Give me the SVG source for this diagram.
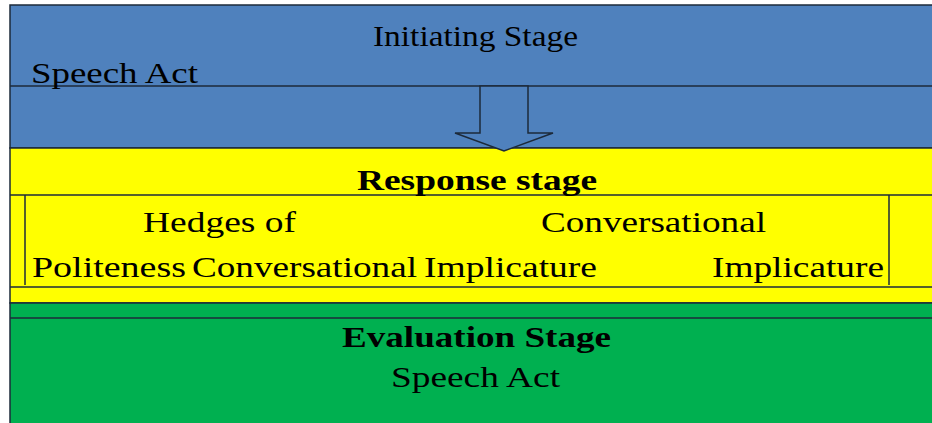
<svg xmlns="http://www.w3.org/2000/svg" width="932" height="423" viewBox="0 0 932 423">
<style>
.t{font-family:"Liberation Serif","Times New Roman",serif;font-size:29px;fill:#000}
.b{font-weight:bold}
.ln{stroke:#1c2a3a;stroke-width:1.5;fill:none}
.box{stroke:#1c2a3a;stroke-width:1.5}
</style>
<rect width="932" height="423" fill="#fff"/>
<g id="initiating">
<rect class="box" x="10" y="5" width="930" height="143" fill="#4F81BD"/>
<line class="ln" x1="10" y1="86" x2="932" y2="86"/>
<text class="t" x="373" y="46" textLength="205" lengthAdjust="spacingAndGlyphs">Initiating Stage</text>
<text class="t" x="31" y="83" textLength="167" lengthAdjust="spacingAndGlyphs">Speech Act</text>
</g>
<g id="response">
<rect class="box" x="10" y="148" width="930" height="155" fill="#FFFF00"/>
<line class="ln" x1="10" y1="195" x2="932" y2="195"/>
<line class="ln" x1="10" y1="287" x2="932" y2="287"/>
<line class="ln" x1="25" y1="195" x2="25" y2="285"/>
<line class="ln" x1="889" y1="195" x2="889" y2="285"/>
<text class="t b" x="357" y="190" textLength="240" lengthAdjust="spacingAndGlyphs">Response stage</text>
<text class="t" x="143" y="232" textLength="153" lengthAdjust="spacingAndGlyphs">Hedges of</text>
<text class="t" x="541" y="232" textLength="225" lengthAdjust="spacingAndGlyphs">Conversational</text>
<text class="t" x="32" y="277" textLength="154" lengthAdjust="spacingAndGlyphs">Politeness</text>
<text class="t" x="192" y="277" textLength="225" lengthAdjust="spacingAndGlyphs">Conversational</text>
<text class="t" x="424" y="277" textLength="173" lengthAdjust="spacingAndGlyphs">Implicature</text>
<text class="t" x="712" y="277" textLength="172" lengthAdjust="spacingAndGlyphs">Implicature</text>
</g>
<g id="evaluation">
<rect class="box" x="10" y="303" width="930" height="130" fill="#00B050"/>
<line class="ln" x1="10" y1="318" x2="932" y2="318"/>
<text class="t b" x="342" y="347" textLength="269" lengthAdjust="spacingAndGlyphs">Evaluation Stage</text>
<text class="t" x="391" y="387" textLength="169" lengthAdjust="spacingAndGlyphs">Speech Act</text>
</g>
<g id="connectors">
<polygon class="box" points="480,86 528,86 528,133 553,133 504,151 455,133 480,133" fill="#4F81BD"/>
</g>
</svg>
